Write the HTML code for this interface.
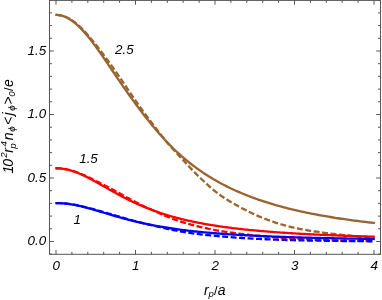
<!DOCTYPE html>
<html><head><meta charset="utf-8"><title>plot</title>
<style>
html,body{margin:0;padding:0;background:#fff;}
body{width:382px;height:300px;overflow:hidden;}
svg{display:block;}
text{font-family:"Liberation Sans",sans-serif;font-style:italic;font-size:13.4px;fill:#000;}
</style></head><body>
<svg width="382" height="300" viewBox="0 0 382 300">
<rect width="382" height="300" fill="#fff"/>
<path d="M55.26,14.92 L56.86,14.93 L58.46,15.06 L60.06,15.31 L61.66,15.68 L63.25,16.16 L64.85,16.75 L66.45,17.46 L68.05,18.28 L69.65,19.21 L71.24,20.24 L72.84,21.38 L74.44,22.61 L76.04,23.94 L77.64,25.36 L79.23,26.87 L80.83,28.47 L82.43,30.14 L84.03,31.89 L85.63,33.71 L87.22,35.60 L88.82,37.55 L90.42,39.56 L92.02,41.62 L93.61,43.73 L95.21,45.88 L96.81,48.08 L98.41,50.30 L100.01,52.56 L101.60,54.85 L103.20,57.16 L104.80,59.48 L106.40,61.82 L108.00,64.18 L109.59,66.53 L111.19,68.90 L112.79,71.26 L114.39,73.63 L115.99,75.99 L117.58,78.34 L119.18,80.68 L120.78,83.01 L122.38,85.34 L123.98,87.64 L125.57,89.93 L127.17,92.21 L128.77,94.47 L130.37,96.71 L131.97,98.93 L133.56,101.14 L135.16,103.32 L136.76,105.49 L138.36,107.63 L139.96,109.76 L141.55,111.86 L143.15,113.94 L144.75,116.00 L146.35,118.04 L147.95,120.06 L149.54,122.05 L151.14,124.02 L152.74,125.96 L154.34,127.88 L155.93,129.78 L157.53,131.64 L159.13,133.48 L160.73,135.29 L162.33,137.07 L163.92,138.82 L165.52,140.55 L167.12,142.24 L168.72,143.90 L170.32,145.53 L171.91,147.13 L173.51,148.70 L175.11,150.24 L176.71,151.75 L178.31,153.22 L179.90,154.67 L181.50,156.09 L183.10,157.48 L184.70,158.84 L186.30,160.18 L187.89,161.48 L189.49,162.76 L191.09,164.02 L192.69,165.25 L194.29,166.45 L195.88,167.63 L197.48,168.78 L199.08,169.92 L200.68,171.03 L202.28,172.12 L203.87,173.18 L205.47,174.23 L207.07,175.26 L208.67,176.26 L210.27,177.25 L211.86,178.22 L213.46,179.17 L215.06,180.10 L216.66,181.01 L218.25,181.90 L219.85,182.78 L221.45,183.64 L223.05,184.49 L224.65,185.32 L226.24,186.13 L227.84,186.93 L229.44,187.71 L231.04,188.48 L232.64,189.23 L234.23,189.97 L235.83,190.70 L237.43,191.41 L239.03,192.11 L240.63,192.80 L242.22,193.47 L243.82,194.13 L245.42,194.78 L247.02,195.42 L248.62,196.04 L250.21,196.66 L251.81,197.26 L253.41,197.85 L255.01,198.43 L256.61,199.00 L258.20,199.56 L259.80,200.11 L261.40,200.65 L263.00,201.19 L264.60,201.71 L266.19,202.22 L267.79,202.72 L269.39,203.22 L270.99,203.71 L272.59,204.18 L274.18,204.65 L275.78,205.11 L277.38,205.57 L278.98,206.01 L280.57,206.45 L282.17,206.88 L283.77,207.31 L285.37,207.72 L286.97,208.13 L288.56,208.53 L290.16,208.93 L291.76,209.32 L293.36,209.70 L294.96,210.08 L296.55,210.45 L298.15,210.81 L299.75,211.17 L301.35,211.52 L302.95,211.87 L304.54,212.21 L306.14,212.55 L307.74,212.88 L309.34,213.20 L310.94,213.52 L312.53,213.84 L314.13,214.15 L315.73,214.45 L317.33,214.75 L318.93,215.05 L320.52,215.34 L322.12,215.63 L323.72,215.91 L325.32,216.19 L326.92,216.46 L328.51,216.73 L330.11,216.99 L331.71,217.25 L333.31,217.51 L334.91,217.77 L336.50,218.02 L338.10,218.26 L339.70,218.50 L341.30,218.74 L342.89,218.98 L344.49,219.21 L346.09,219.44 L347.69,219.66 L349.29,219.88 L350.88,220.10 L352.48,220.32 L354.08,220.53 L355.68,220.74 L357.28,220.95 L358.87,221.15 L360.47,221.35 L362.07,221.55 L363.67,221.74 L365.27,221.94 L366.86,222.13 L368.46,222.31 L370.06,222.50 L371.66,222.68 L373.26,222.86 L374.85,223.04" fill="none" stroke="rgb(153,100,46)" stroke-width="2.3" stroke-linejoin="round"/>
<path d="M55.90,14.91 L57.49,14.95 L59.08,15.09 L60.67,15.35 L62.26,15.71 L63.85,16.19 L65.44,16.78 L67.03,17.47 L68.62,18.27 L70.21,19.18 L71.80,20.18 L73.39,21.29 L74.98,22.49 L76.57,23.78 L78.16,25.15 L79.75,26.60 L81.34,28.14 L82.93,29.74 L84.52,31.41 L86.11,33.15 L87.70,34.94 L89.29,36.78 L90.88,38.65 L92.47,40.55 L94.06,42.48 L95.65,44.44 L97.24,46.44 L98.83,48.47 L100.42,50.54 L102.01,52.65 L103.60,54.79 L105.19,56.95 L106.78,59.10 L108.37,61.26 L109.96,63.42 L111.55,65.60 L113.14,67.81 L114.73,70.04 L116.32,72.31 L117.91,74.62 L119.50,76.98 L121.09,79.36 L122.68,81.74 L124.27,84.11 L125.86,86.47 L127.45,88.82 L129.04,91.16 L130.63,93.48 L132.22,95.79 L133.81,98.09 L135.40,100.37 L136.99,102.63 L138.58,104.87 L140.17,107.10 L141.76,109.31 L143.35,111.49 L144.94,113.66 L146.53,115.81 L148.12,117.93 L149.71,120.03 L151.30,122.11 L152.89,124.18 L154.48,126.27 L156.07,128.37 L157.66,130.47 L159.25,132.55 L160.84,134.62 L162.43,136.65 L164.02,138.65 L165.61,140.61 L167.20,142.52 L168.79,144.38 L170.38,146.20 L171.97,147.99 L173.56,149.74 L175.15,151.48 L176.74,153.19 L178.33,154.90 L179.92,156.59 L181.51,158.30 L183.10,160.03 L184.69,161.76 L186.28,163.50 L187.87,165.23 L189.46,166.96 L191.05,168.66 L192.64,170.35 L194.23,172.00 L195.82,173.62 L197.41,175.21 L199.00,176.76 L200.59,178.27 L202.18,179.77 L203.77,181.26 L205.36,182.74 L206.95,184.20 L208.54,185.64 L210.13,187.05 L211.72,188.42 L213.31,189.76 L214.90,191.07 L216.49,192.33 L218.08,193.55 L219.67,194.72 L221.26,195.85 L222.85,196.94 L224.44,198.00 L226.03,199.02 L227.62,200.02 L229.21,200.99 L230.80,201.94 L232.39,202.87 L233.98,203.78 L235.57,204.68 L237.16,205.56 L238.75,206.43 L240.34,207.29 L241.93,208.14 L243.52,208.99 L245.11,209.82 L246.70,210.64 L248.29,211.45 L249.88,212.24 L251.47,213.01 L253.06,213.77 L254.65,214.50 L256.24,215.21 L257.83,215.91 L259.42,216.59 L261.01,217.25 L262.60,217.90 L264.19,218.53 L265.78,219.15 L267.37,219.76 L268.96,220.34 L270.55,220.92 L272.14,221.47 L273.73,222.01 L275.32,222.54 L276.91,223.05 L278.50,223.55 L280.09,224.03 L281.68,224.50 L283.27,224.96 L284.86,225.40 L286.45,225.82 L288.04,226.24 L289.63,226.64 L291.22,227.02 L292.81,227.40 L294.40,227.76 L295.99,228.11 L297.58,228.45 L299.17,228.78 L300.76,229.09 L302.35,229.40 L303.94,229.69 L305.53,229.97 L307.12,230.25 L308.71,230.51 L310.30,230.77 L311.89,231.02 L313.48,231.26 L315.07,231.50 L316.66,231.73 L318.25,231.96 L319.84,232.18 L321.43,232.40 L323.02,232.61 L324.61,232.82 L326.20,233.02 L327.79,233.22 L329.38,233.42 L330.97,233.62 L332.56,233.81 L334.15,234.00 L335.74,234.18 L337.33,234.36 L338.92,234.53 L340.51,234.70 L342.10,234.87 L343.69,235.03 L345.28,235.19 L346.87,235.35 L348.46,235.50 L350.05,235.65 L351.64,235.80 L353.23,235.94 L354.82,236.08 L356.41,236.22 L358.00,236.35 L359.59,236.48 L361.18,236.61 L362.77,236.73 L364.36,236.85 L365.95,236.97 L367.54,237.09 L369.13,237.20 L370.72,237.31 L372.31,237.42 L373.90,237.52" fill="none" stroke="rgb(153,100,46)" stroke-width="2.3" stroke-dasharray="6.0 2.5" stroke-linejoin="round"/>
<path d="M55.26,168.23 L56.86,168.23 L58.46,168.29 L60.06,168.41 L61.66,168.57 L63.25,168.79 L64.85,169.06 L66.45,169.38 L68.05,169.75 L69.65,170.16 L71.24,170.62 L72.84,171.13 L74.44,171.67 L76.04,172.26 L77.64,172.88 L79.23,173.54 L80.83,174.23 L82.43,174.95 L84.03,175.70 L85.63,176.48 L87.22,177.27 L88.82,178.09 L90.42,178.93 L92.02,179.79 L93.61,180.65 L95.21,181.53 L96.81,182.42 L98.41,183.32 L100.01,184.22 L101.60,185.13 L103.20,186.04 L104.80,186.95 L106.40,187.86 L108.00,188.77 L109.59,189.68 L111.19,190.58 L112.79,191.47 L114.39,192.36 L115.99,193.24 L117.58,194.11 L119.18,194.97 L120.78,195.82 L122.38,196.66 L123.98,197.49 L125.57,198.31 L127.17,199.12 L128.77,199.91 L130.37,200.69 L131.97,201.46 L133.56,202.22 L135.16,202.96 L136.76,203.69 L138.36,204.41 L139.96,205.11 L141.55,205.80 L143.15,206.47 L144.75,207.13 L146.35,207.78 L147.95,208.42 L149.54,209.04 L151.14,209.65 L152.74,210.25 L154.34,210.83 L155.93,211.40 L157.53,211.96 L159.13,212.51 L160.73,213.04 L162.33,213.57 L163.92,214.08 L165.52,214.58 L167.12,215.07 L168.72,215.55 L170.32,216.02 L171.91,216.48 L173.51,216.92 L175.11,217.36 L176.71,217.79 L178.31,218.21 L179.90,218.62 L181.50,219.02 L183.10,219.41 L184.70,219.79 L186.30,220.16 L187.89,220.53 L189.49,220.89 L191.09,221.24 L192.69,221.58 L194.29,221.91 L195.88,222.24 L197.48,222.56 L199.08,222.87 L200.68,223.17 L202.28,223.47 L203.87,223.77 L205.47,224.05 L207.07,224.33 L208.67,224.60 L210.27,224.87 L211.86,225.13 L213.46,225.39 L215.06,225.64 L216.66,225.89 L218.25,226.13 L219.85,226.36 L221.45,226.59 L223.05,226.82 L224.65,227.04 L226.24,227.26 L227.84,227.47 L229.44,227.68 L231.04,227.88 L232.64,228.08 L234.23,228.27 L235.83,228.46 L237.43,228.65 L239.03,228.84 L240.63,229.01 L242.22,229.19 L243.82,229.36 L245.42,229.53 L247.02,229.70 L248.62,229.86 L250.21,230.02 L251.81,230.18 L253.41,230.33 L255.01,230.48 L256.61,230.63 L258.20,230.77 L259.80,230.92 L261.40,231.06 L263.00,231.19 L264.60,231.33 L266.19,231.46 L267.79,231.59 L269.39,231.72 L270.99,231.84 L272.59,231.96 L274.18,232.08 L275.78,232.20 L277.38,232.32 L278.98,232.43 L280.57,232.54 L282.17,232.65 L283.77,232.76 L285.37,232.87 L286.97,232.97 L288.56,233.07 L290.16,233.17 L291.76,233.27 L293.36,233.37 L294.96,233.46 L296.55,233.56 L298.15,233.65 L299.75,233.74 L301.35,233.83 L302.95,233.92 L304.54,234.00 L306.14,234.09 L307.74,234.17 L309.34,234.25 L310.94,234.33 L312.53,234.41 L314.13,234.49 L315.73,234.57 L317.33,234.64 L318.93,234.72 L320.52,234.79 L322.12,234.86 L323.72,234.93 L325.32,235.00 L326.92,235.07 L328.51,235.14 L330.11,235.21 L331.71,235.27 L333.31,235.34 L334.91,235.40 L336.50,235.46 L338.10,235.52 L339.70,235.59 L341.30,235.65 L342.89,235.70 L344.49,235.76 L346.09,235.82 L347.69,235.88 L349.29,235.93 L350.88,235.99 L352.48,236.04 L354.08,236.09 L355.68,236.15 L357.28,236.20 L358.87,236.25 L360.47,236.30 L362.07,236.35 L363.67,236.40 L365.27,236.44 L366.86,236.49 L368.46,236.54 L370.06,236.58 L371.66,236.63 L373.26,236.67 L374.85,236.72" fill="none" stroke="rgb(255,0,0)" stroke-width="2.3" stroke-linejoin="round"/>
<path d="M55.90,168.23 L57.49,168.25 L59.08,168.32 L60.67,168.45 L62.26,168.62 L63.85,168.84 L65.44,169.11 L67.03,169.43 L68.62,169.79 L70.21,170.20 L71.80,170.65 L73.39,171.14 L74.98,171.66 L76.57,172.22 L78.16,172.80 L79.75,173.42 L81.34,174.06 L82.93,174.73 L84.52,175.42 L86.11,176.14 L87.70,176.88 L89.29,177.63 L90.88,178.40 L92.47,179.17 L94.06,179.95 L95.65,180.74 L97.24,181.53 L98.83,182.34 L100.42,183.16 L102.01,183.99 L103.60,184.83 L105.19,185.68 L106.78,186.51 L108.37,187.35 L109.96,188.18 L111.55,189.01 L113.14,189.85 L114.73,190.69 L116.32,191.55 L117.91,192.41 L119.50,193.29 L121.09,194.17 L122.68,195.06 L124.27,195.94 L125.86,196.82 L127.45,197.70 L129.04,198.57 L130.63,199.43 L132.22,200.29 L133.81,201.13 L135.40,201.96 L136.99,202.79 L138.58,203.60 L140.17,204.40 L141.76,205.19 L143.35,205.96 L144.94,206.72 L146.53,207.47 L148.12,208.20 L149.71,208.91 L151.30,209.62 L152.89,210.31 L154.48,211.02 L156.07,211.73 L157.66,212.45 L159.25,213.16 L160.84,213.87 L162.43,214.57 L164.02,215.26 L165.61,215.94 L167.20,216.61 L168.79,217.27 L170.38,217.91 L171.97,218.53 L173.56,219.14 L175.15,219.72 L176.74,220.29 L178.33,220.83 L179.92,221.35 L181.51,221.86 L183.10,222.36 L184.69,222.84 L186.28,223.31 L187.87,223.77 L189.46,224.22 L191.05,224.66 L192.64,225.08 L194.23,225.50 L195.82,225.90 L197.41,226.30 L199.00,226.68 L200.59,227.05 L202.18,227.42 L203.77,227.77 L205.36,228.12 L206.95,228.46 L208.54,228.79 L210.13,229.11 L211.72,229.42 L213.31,229.72 L214.90,230.02 L216.49,230.31 L218.08,230.58 L219.67,230.86 L221.26,231.12 L222.85,231.37 L224.44,231.62 L226.03,231.86 L227.62,232.09 L229.21,232.32 L230.80,232.54 L232.39,232.76 L233.98,232.97 L235.57,233.18 L237.16,233.39 L238.75,233.59 L240.34,233.79 L241.93,233.98 L243.52,234.17 L245.11,234.36 L246.70,234.54 L248.29,234.72 L249.88,234.89 L251.47,235.07 L253.06,235.24 L254.65,235.40 L256.24,235.57 L257.83,235.73 L259.42,235.89 L261.01,236.05 L262.60,236.20 L264.19,236.35 L265.78,236.50 L267.37,236.65 L268.96,236.79 L270.55,236.94 L272.14,237.08 L273.73,237.21 L275.32,237.34 L276.91,237.47 L278.50,237.60 L280.09,237.73 L281.68,237.85 L283.27,237.96 L284.86,238.08 L286.45,238.19 L288.04,238.30 L289.63,238.41 L291.22,238.51 L292.81,238.61 L294.40,238.71 L295.99,238.80 L297.58,238.90 L299.17,238.99 L300.76,239.07 L302.35,239.16 L303.94,239.24 L305.53,239.32 L307.12,239.40 L308.71,239.48 L310.30,239.56 L311.89,239.63 L313.48,239.70 L315.07,239.77 L316.66,239.84 L318.25,239.90 L319.84,239.96 L321.43,240.03 L323.02,240.08 L324.61,240.14 L326.20,240.19 L327.79,240.25 L329.38,240.30 L330.97,240.34 L332.56,240.39 L334.15,240.44 L335.74,240.48 L337.33,240.52 L338.92,240.56 L340.51,240.60 L342.10,240.63 L343.69,240.67 L345.28,240.70 L346.87,240.73 L348.46,240.76 L350.05,240.79 L351.64,240.82 L353.23,240.85 L354.82,240.88 L356.41,240.90 L358.00,240.93 L359.59,240.95 L361.18,240.97 L362.77,240.99 L364.36,241.01 L365.95,241.03 L367.54,241.05 L369.13,241.07 L370.72,241.09 L372.31,241.10 L373.90,241.12" fill="none" stroke="rgb(255,0,0)" stroke-width="2.3" stroke-dasharray="6.0 2.5" stroke-linejoin="round"/>
<path d="M55.26,203.04 L56.86,203.05 L58.46,203.08 L60.06,203.14 L61.66,203.23 L63.25,203.34 L64.85,203.49 L66.45,203.66 L68.05,203.85 L69.65,204.07 L71.24,204.32 L72.84,204.59 L74.44,204.88 L76.04,205.19 L77.64,205.52 L79.23,205.87 L80.83,206.24 L82.43,206.63 L84.03,207.02 L85.63,207.44 L87.22,207.86 L88.82,208.30 L90.42,208.74 L92.02,209.19 L93.61,209.66 L95.21,210.12 L96.81,210.59 L98.41,211.07 L100.01,211.55 L101.60,212.03 L103.20,212.51 L104.80,212.99 L106.40,213.47 L108.00,213.95 L109.59,214.43 L111.19,214.91 L112.79,215.38 L114.39,215.85 L115.99,216.31 L117.58,216.77 L119.18,217.22 L120.78,217.67 L122.38,218.12 L123.98,218.55 L125.57,218.98 L127.17,219.41 L128.77,219.82 L130.37,220.23 L131.97,220.64 L133.56,221.04 L135.16,221.42 L136.76,221.81 L138.36,222.18 L139.96,222.55 L141.55,222.91 L143.15,223.27 L144.75,223.61 L146.35,223.95 L147.95,224.28 L149.54,224.61 L151.14,224.93 L152.74,225.24 L154.34,225.55 L155.93,225.84 L157.53,226.14 L159.13,226.42 L160.73,226.70 L162.33,226.98 L163.92,227.24 L165.52,227.50 L167.12,227.76 L168.72,228.01 L170.32,228.25 L171.91,228.49 L173.51,228.73 L175.11,228.95 L176.71,229.18 L178.31,229.39 L179.90,229.61 L181.50,229.82 L183.10,230.02 L184.70,230.22 L186.30,230.41 L187.89,230.60 L189.49,230.79 L191.09,230.97 L192.69,231.15 L194.29,231.32 L195.88,231.49 L197.48,231.66 L199.08,231.82 L200.68,231.98 L202.28,232.13 L203.87,232.28 L205.47,232.43 L207.07,232.58 L208.67,232.72 L210.27,232.86 L211.86,232.99 L213.46,233.13 L215.06,233.26 L216.66,233.39 L218.25,233.51 L219.85,233.63 L221.45,233.75 L223.05,233.87 L224.65,233.98 L226.24,234.09 L227.84,234.20 L229.44,234.31 L231.04,234.42 L232.64,234.52 L234.23,234.62 L235.83,234.72 L237.43,234.82 L239.03,234.91 L240.63,235.01 L242.22,235.10 L243.82,235.19 L245.42,235.27 L247.02,235.36 L248.62,235.44 L250.21,235.53 L251.81,235.61 L253.41,235.69 L255.01,235.77 L256.61,235.84 L258.20,235.92 L259.80,235.99 L261.40,236.06 L263.00,236.13 L264.60,236.20 L266.19,236.27 L267.79,236.34 L269.39,236.40 L270.99,236.47 L272.59,236.53 L274.18,236.59 L275.78,236.65 L277.38,236.71 L278.98,236.77 L280.57,236.83 L282.17,236.89 L283.77,236.94 L285.37,237.00 L286.97,237.05 L288.56,237.10 L290.16,237.16 L291.76,237.21 L293.36,237.26 L294.96,237.31 L296.55,237.36 L298.15,237.40 L299.75,237.45 L301.35,237.50 L302.95,237.54 L304.54,237.59 L306.14,237.63 L307.74,237.67 L309.34,237.72 L310.94,237.76 L312.53,237.80 L314.13,237.84 L315.73,237.88 L317.33,237.92 L318.93,237.96 L320.52,237.99 L322.12,238.03 L323.72,238.07 L325.32,238.10 L326.92,238.14 L328.51,238.17 L330.11,238.21 L331.71,238.24 L333.31,238.27 L334.91,238.31 L336.50,238.34 L338.10,238.37 L339.70,238.40 L341.30,238.43 L342.89,238.46 L344.49,238.49 L346.09,238.52 L347.69,238.55 L349.29,238.58 L350.88,238.61 L352.48,238.64 L354.08,238.67 L355.68,238.69 L357.28,238.72 L358.87,238.74 L360.47,238.77 L362.07,238.80 L363.67,238.82 L365.27,238.85 L366.86,238.87 L368.46,238.89 L370.06,238.92 L371.66,238.94 L373.26,238.97 L374.85,238.99" fill="none" stroke="rgb(0,0,255)" stroke-width="2.3" stroke-linejoin="round"/>
<path d="M55.90,203.04 L57.49,203.05 L59.08,203.09 L60.67,203.16 L62.26,203.25 L63.85,203.37 L65.44,203.51 L67.03,203.68 L68.62,203.88 L70.21,204.09 L71.80,204.34 L73.39,204.60 L74.98,204.88 L76.57,205.18 L78.16,205.50 L79.75,205.83 L81.34,206.18 L82.93,206.55 L84.52,206.93 L86.11,207.32 L87.70,207.72 L89.29,208.14 L90.88,208.55 L92.47,208.98 L94.06,209.41 L95.65,209.85 L97.24,210.29 L98.83,210.74 L100.42,211.19 L102.01,211.65 L103.60,212.11 L105.19,212.58 L106.78,213.04 L108.37,213.50 L109.96,213.96 L111.55,214.42 L113.14,214.88 L114.73,215.34 L116.32,215.79 L117.91,216.25 L119.50,216.71 L121.09,217.17 L122.68,217.63 L124.27,218.08 L125.86,218.54 L127.45,218.99 L129.04,219.44 L130.63,219.88 L132.22,220.31 L133.81,220.75 L135.40,221.17 L136.99,221.59 L138.58,222.01 L140.17,222.41 L141.76,222.81 L143.35,223.21 L144.94,223.59 L146.53,223.97 L148.12,224.34 L149.71,224.72 L151.30,225.10 L152.89,225.48 L154.48,225.86 L156.07,226.24 L157.66,226.62 L159.25,226.99 L160.84,227.36 L162.43,227.73 L164.02,228.09 L165.61,228.44 L167.20,228.79 L168.79,229.13 L170.38,229.46 L171.97,229.78 L173.56,230.10 L175.15,230.40 L176.74,230.70 L178.33,230.98 L179.92,231.26 L181.51,231.53 L183.10,231.80 L184.69,232.06 L186.28,232.32 L187.87,232.58 L189.46,232.83 L191.05,233.07 L192.64,233.31 L194.23,233.53 L195.82,233.75 L197.41,233.97 L199.00,234.17 L200.59,234.36 L202.18,234.55 L203.77,234.73 L205.36,234.90 L206.95,235.07 L208.54,235.23 L210.13,235.38 L211.72,235.54 L213.31,235.69 L214.90,235.83 L216.49,235.98 L218.08,236.12 L219.67,236.26 L221.26,236.40 L222.85,236.54 L224.44,236.68 L226.03,236.81 L227.62,236.94 L229.21,237.06 L230.80,237.19 L232.39,237.31 L233.98,237.43 L235.57,237.54 L237.16,237.66 L238.75,237.77 L240.34,237.87 L241.93,237.98 L243.52,238.08 L245.11,238.18 L246.70,238.28 L248.29,238.37 L249.88,238.46 L251.47,238.55 L253.06,238.64 L254.65,238.72 L256.24,238.80 L257.83,238.88 L259.42,238.96 L261.01,239.03 L262.60,239.11 L264.19,239.18 L265.78,239.25 L267.37,239.31 L268.96,239.38 L270.55,239.44 L272.14,239.51 L273.73,239.57 L275.32,239.63 L276.91,239.69 L278.50,239.74 L280.09,239.80 L281.68,239.85 L283.27,239.90 L284.86,239.95 L286.45,240.00 L288.04,240.04 L289.63,240.09 L291.22,240.13 L292.81,240.17 L294.40,240.22 L295.99,240.25 L297.58,240.29 L299.17,240.33 L300.76,240.36 L302.35,240.40 L303.94,240.43 L305.53,240.46 L307.12,240.49 L308.71,240.52 L310.30,240.55 L311.89,240.58 L313.48,240.60 L315.07,240.63 L316.66,240.65 L318.25,240.68 L319.84,240.70 L321.43,240.72 L323.02,240.75 L324.61,240.77 L326.20,240.79 L327.79,240.81 L329.38,240.83 L330.97,240.85 L332.56,240.87 L334.15,240.89 L335.74,240.91 L337.33,240.93 L338.92,240.95 L340.51,240.97 L342.10,240.98 L343.69,241.00 L345.28,241.02 L346.87,241.04 L348.46,241.05 L350.05,241.07 L351.64,241.09 L353.23,241.10 L354.82,241.12 L356.41,241.13 L358.00,241.14 L359.59,241.16 L361.18,241.17 L362.77,241.18 L364.36,241.19 L365.95,241.21 L367.54,241.22 L369.13,241.23 L370.72,241.24 L372.31,241.25 L373.90,241.25" fill="none" stroke="rgb(0,0,255)" stroke-width="2.3" stroke-dasharray="6.0 2.5" stroke-linejoin="round"/>
<rect x="49.5" y="0.4" width="331.0" height="253.9" fill="none" stroke="#555" stroke-width="1"/>
<path d="M56.00,254.3 v-4.3 M56.00,0.4 v4.3 M71.90,254.3 v-2.5 M71.90,0.4 v2.5 M87.80,254.3 v-2.5 M87.80,0.4 v2.5 M103.70,254.3 v-2.5 M103.70,0.4 v2.5 M119.60,254.3 v-2.5 M119.60,0.4 v2.5 M135.50,254.3 v-4.3 M135.50,0.4 v4.3 M151.40,254.3 v-2.5 M151.40,0.4 v2.5 M167.30,254.3 v-2.5 M167.30,0.4 v2.5 M183.20,254.3 v-2.5 M183.20,0.4 v2.5 M199.10,254.3 v-2.5 M199.10,0.4 v2.5 M215.00,254.3 v-4.3 M215.00,0.4 v4.3 M230.90,254.3 v-2.5 M230.90,0.4 v2.5 M246.80,254.3 v-2.5 M246.80,0.4 v2.5 M262.70,254.3 v-2.5 M262.70,0.4 v2.5 M278.60,254.3 v-2.5 M278.60,0.4 v2.5 M294.50,254.3 v-4.3 M294.50,0.4 v4.3 M310.40,254.3 v-2.5 M310.40,0.4 v2.5 M326.30,254.3 v-2.5 M326.30,0.4 v2.5 M342.20,254.3 v-2.5 M342.20,0.4 v2.5 M358.10,254.3 v-2.5 M358.10,0.4 v2.5 M374.00,254.3 v-4.3 M374.00,0.4 v4.3 M49.5,254.20 h2.5 M380.5,254.20 h-2.5 M49.5,241.50 h4.3 M380.5,241.50 h-4.3 M49.5,228.80 h2.5 M380.5,228.80 h-2.5 M49.5,216.10 h2.5 M380.5,216.10 h-2.5 M49.5,203.40 h2.5 M380.5,203.40 h-2.5 M49.5,190.70 h2.5 M380.5,190.70 h-2.5 M49.5,178.00 h4.3 M380.5,178.00 h-4.3 M49.5,165.30 h2.5 M380.5,165.30 h-2.5 M49.5,152.60 h2.5 M380.5,152.60 h-2.5 M49.5,139.90 h2.5 M380.5,139.90 h-2.5 M49.5,127.20 h2.5 M380.5,127.20 h-2.5 M49.5,114.50 h4.3 M380.5,114.50 h-4.3 M49.5,101.80 h2.5 M380.5,101.80 h-2.5 M49.5,89.10 h2.5 M380.5,89.10 h-2.5 M49.5,76.40 h2.5 M380.5,76.40 h-2.5 M49.5,63.70 h2.5 M380.5,63.70 h-2.5 M49.5,51.00 h4.3 M380.5,51.00 h-4.3 M49.5,38.30 h2.5 M380.5,38.30 h-2.5 M49.5,25.60 h2.5 M380.5,25.60 h-2.5 M49.5,12.90 h2.5 M380.5,12.90 h-2.5 M49.5,0.20 h2.5 M380.5,0.20 h-2.5" fill="none" stroke="#555" stroke-width="1"/>
<g style="filter:grayscale(1)">
<text x="46.2" y="245.40" text-anchor="end">0.0</text>
<text x="46.2" y="181.90" text-anchor="end">0.5</text>
<text x="46.2" y="118.40" text-anchor="end">1.0</text>
<text x="46.2" y="54.90" text-anchor="end">1.5</text>
<text x="56.20" y="270.4" text-anchor="middle">0</text>
<text x="135.70" y="270.4" text-anchor="middle">1</text>
<text x="215.20" y="270.4" text-anchor="middle">2</text>
<text x="294.70" y="270.4" text-anchor="middle">3</text>
<text x="374.20" y="270.4" text-anchor="middle">4</text>
<text x="115.0" y="53.8">2.5</text>
<text x="79.2" y="163.3">1.5</text>
<text x="73.6" y="224.3">1</text>
<text x="203.9" y="294.9" style="font-size:14px">r<tspan style="font-size:9.6px" dy="1.8">p</tspan><tspan dy="-1.8" style="font-style:normal;font-size:12.8px">/</tspan><tspan dx="0.3" style="font-size:14px">a</tspan></text>
<g transform="translate(12.9,172.6) rotate(-90)"><text x="-0.85" y="0" style="font-size:14px">1</text><text x="5.98" y="0" style="font-size:14px">0</text><text x="14.78" y="-5.9" style="font-size:9.8px">2</text><text x="19.97" y="0" style="font-size:14px">r</text><text x="23.86" y="3.0" style="font-size:9.8px">p</text><text x="26.14" y="-6.1" style="font-size:9.8px">4</text><text x="32.47" y="0" style="font-size:14px">n</text><text x="40.95" y="2.5" style="font-size:9.8px">ϕ</text><text x="47.82" y="0" style="font-size:14px;font-style:normal">&lt;</text><text x="57.06" y="0" style="font-size:14px">j</text><text x="61.85" y="2.5" style="font-size:9.8px">ϕ</text><text x="68.18" y="0" style="font-size:14px;font-style:normal">&gt;</text><text x="75.91" y="2.2" style="font-size:9.8px">0</text><text x="81.5" y="0" style="font-size:13px;font-style:normal">/</text><text x="85.57" y="0" style="font-size:14px">e</text></g>
</g>
</svg>
</body></html>
